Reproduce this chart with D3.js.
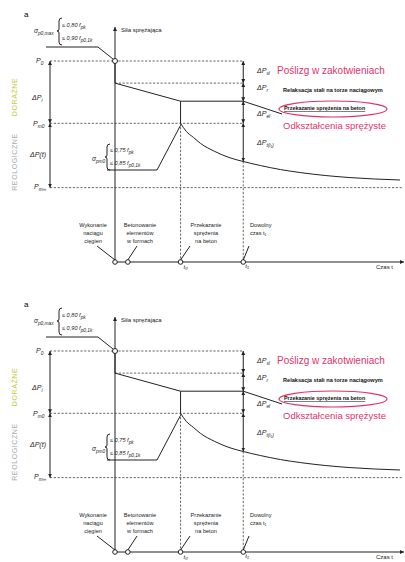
<!DOCTYPE html>
<html>
<head>
<meta charset="utf-8">
<script src="https://cdn.jsdelivr.net/npm/d3@7"></script>
<style>
  body { margin: 0; background: #fff; }
  svg { display: block; font-family: "Liberation Sans", Arial, sans-serif; }
  .dash { stroke: #555; stroke-width: 0.9; stroke-dasharray: 2.2,1.6; fill: none; }
  .solid { stroke: #222; stroke-width: 1; fill: none; }
  .lbl { font-size: 6px; fill: #222; }
</style>
</head>
<body>
<div id="chart"></div>
<script>
// poziomy siły sprężającej (jednostki umowne, P0 = 100)
const levelNames = ["P0", "Psl", "Pr", "Pm0", "Pinf"];
const levelValues = [100, 89, 80, 69, 37];

// chwile czasu na osi
const eventNames = ["Wykonanie naciągu cięgien", "Betonowanie elementów w formach", "Przekazanie sprężenia na beton", "Dowolny czas t1"];
const eventTimes = [0, 4.5, 23, 45];

// krzywa strat reologicznych po przekazaniu sprężenia
const decayT = [23, 25, 27.5, 30, 35, 40, 45, 51, 58, 65, 74, 82.5, 91, 100];
const decayP = [69, 65, 62, 59, 55, 52, 50, 48, 46, 44.5, 43, 42, 41.3, 40.8];

const W = 405, H = 562;
const svg = d3.select("#chart").append("svg").attr("width", W).attr("height", H);

const defs = svg.append("defs");
defs.append("marker")
  .attr("id", "arr").attr("viewBox", "0 0 6 6").attr("refX", 6).attr("refY", 3)
  .attr("markerWidth", 4).attr("markerHeight", 4).attr("orient", "auto-start-reverse")
  .append("path").attr("d", "M0,0 L6,3 L0,6 Z").attr("fill", "#222");

const red = "#e4336b";

function drawPanel(g) {
  const x = d3.scaleLinear().domain([0, 100]).range([115, 400]);
  const y = d3.scaleLinear().domain([0, 100]).range([262, 61]);
  const L = 50;              // lewa linia wymiarowa
  const tT1 = eventTimes[3];
  const pAtT1 = decayP[decayT.indexOf(tT1)];

  g.append("text").attr("x", 24).attr("y", 17).style("font-size", "8px").text("a");

  // linie pomocnicze poziome
  g.append("line").attr("class", "dash").attr("x1", L).attr("x2", x(tT1)).attr("y1", y(levelValues[0])).attr("y2", y(levelValues[0]));
  g.append("line").attr("class", "dash").attr("x1", x(0)).attr("x2", x(tT1)).attr("y1", y(levelValues[1])).attr("y2", y(levelValues[1]));
  g.append("line").attr("class", "solid").attr("x1", x(eventTimes[2])).attr("x2", x(tT1)).attr("y1", y(levelValues[2])).attr("y2", y(levelValues[2]));
  g.append("line").attr("class", "dash").attr("x1", L).attr("x2", x(tT1)).attr("y1", y(levelValues[3])).attr("y2", y(levelValues[3]));
  g.append("line").attr("class", "dash").attr("x1", L).attr("x2", 403).attr("y1", y(levelValues[4])).attr("y2", y(levelValues[4]));

  // pionowe linie przerywane
  g.append("line").attr("class", "dash").attr("x1", x(eventTimes[2])).attr("x2", x(eventTimes[2])).attr("y1", y(levelValues[3])).attr("y2", y(0));
  g.append("line").attr("class", "dash").attr("x1", x(tT1)).attr("x2", x(tT1)).attr("y1", y(pAtT1)).attr("y2", y(0));

  // osie
  g.append("line").attr("class", "solid").attr("stroke-width", 1.2)
    .attr("x1", x(0)).attr("x2", x(0)).attr("y1", y(0)).attr("y2", 27).attr("marker-end", "url(#arr)");
  g.append("line").attr("class", "solid").attr("stroke-width", 1.2)
    .attr("x1", x(0)).attr("x2", 404).attr("y1", y(0)).attr("y2", y(0)).attr("marker-end", "url(#arr)");
  g.append("text").attr("class", "lbl").attr("x", 121).attr("y", 32).text("Siła sprężająca");
  g.append("text").attr("class", "lbl").attr("x", 376).attr("y", 269).text("Czas t");

  // linie wymiarowe
  const dim = (xx, a, b, cls) => g.append("line").attr("class", cls || "solid")
    .attr("x1", xx).attr("x2", xx).attr("y1", y(a)).attr("y2", y(b))
    .attr("marker-start", "url(#arr)").attr("marker-end", "url(#arr)");
  dim(L, levelValues[0], levelValues[3]);
  dim(L, levelValues[3], levelValues[4]);
  dim(x(tT1), levelValues[0], levelValues[1]);
  dim(x(tT1), levelValues[1], levelValues[2]);
  dim(x(tT1), levelValues[2], levelValues[3]);
  dim(x(tT1), levelValues[3], pAtT1);

  // przebieg siły
  const pts = [[0, levelValues[0]], [0, levelValues[1]], [eventTimes[2], levelValues[2]], [eventTimes[2], levelValues[3]]];
  g.append("path").attr("class", "solid").attr("stroke", "#111").attr("stroke-width", 2)
    .attr("d", d3.line().x(d => x(d[0])).y(d => y(d[1]))(pts));
  g.append("path").attr("class", "solid").attr("stroke", "#111").attr("stroke-width", 2)
    .attr("d", d3.line().x(d => x(d[0])).y(d => y(d[1])).curve(d3.curveMonotoneX)(decayT.map((t, i) => [t, decayP[i]])));

  g.append("circle").attr("cx", x(0)).attr("cy", y(levelValues[0])).attr("r", 2.5)
    .attr("fill", "#fff").attr("stroke", "#222");

  // punkty na osi czasu
  g.selectAll("circle.ev").data(eventTimes).join("circle").attr("class", "ev")
    .attr("cx", d => x(d)).attr("cy", y(0)).attr("r", 2.3).attr("fill", "#fff").attr("stroke", "#222");

  // opisy zdarzeń
  const evLabels = [
    { lines: ["Wykonanie", "naciągu", "cięgien"], cx: 93, anchor: "middle", lx: 97 },
    { lines: ["Betonowanie", "elementów", "w formach"], cx: 140, anchor: "middle", lx: 137 },
    { lines: ["Przekazanie", "sprężenia", "na beton"], cx: 206, anchor: "middle", lx: 190 },
    { lines: ["Dowolny", "czas t\u2081"], cx: 250, anchor: "start", lx: 249 }
  ];
  evLabels.forEach((e, i) => {
    const t = g.append("text").attr("class", "lbl").attr("text-anchor", e.anchor).style("font-size", "5.6px");
    e.lines.forEach((s, j) => t.append("tspan").attr("x", e.cx).attr("y", 227 + j * 8).text(s));
    g.append("line").attr("class", "solid").attr("stroke-width", 0.8)
      .attr("x1", e.lx).attr("y1", 246).attr("x2", x(eventTimes[i])).attr("y2", y(0) - 2);
  });
  g.append("text").attr("class", "lbl").attr("x", x(eventTimes[2]) + 3).attr("y", 269).style("font-style", "italic").text("t\u2080");
  g.append("text").attr("class", "lbl").attr("x", x(tT1) + 2).attr("y", 268).style("font-style", "italic").text("t\u2081");

  // lewe opisy
  const sub = (xx, yy, main, s, size) => {
    const t = g.append("text").attr("x", xx).attr("y", yy).style("font-size", (size || 7) + "px")
      .style("font-style", "italic").attr("fill", "#222");
    t.append("tspan").text(main);
    t.append("tspan").attr("dy", 1.8).style("font-size", "4.8px").text(s);
    return t;
  };
  sub(36, 63, "P", "0");
  sub(32, 100, "\u0394P", "i");
  sub(33, 126, "P", "m0");
  sub(30, 157, "\u0394P(t)", "");
  sub(34, 189, "P", "m\u221e");

  g.append("text").attr("transform", "translate(17,97) rotate(-90)").attr("text-anchor", "middle")
    .style("font-size", "7px").style("letter-spacing", "0.6px").attr("fill", "#c3cc3c").text("DORAŹNE");
  g.append("text").attr("transform", "translate(17,162) rotate(-90)").attr("text-anchor", "middle")
    .style("font-size", "7px").style("letter-spacing", "0.6px").attr("fill", "#aaa").text("REOLOGICZNE");

  // σp0,max
  sub(34, 33, "\u03c3", "p0,max", 6.5);
  g.append("path").attr("class", "solid").attr("stroke-width", 0.8)
    .attr("d", "M62,18 Q59,18 59,21 L59,29 Q59,31 57,31 Q59,31 59,33 L59,42 Q59,45 62,45");
  sub(62, 27, "\u2264 0,80 f", "pk", 5.6);
  sub(62, 40, "\u2264 0,90 f", "p0,1k", 5.6);
  g.append("path").attr("class", "solid").attr("stroke-width", 0.8)
    .attr("d", `M46,47 L98,47 L${x(0) - 2},${y(levelValues[0]) - 2}`);

  // σpm0
  sub(92, 161, "\u03c3", "pm0", 6.5);
  g.append("path").attr("class", "solid").attr("stroke-width", 0.8)
    .attr("d", "M110,144 Q107,144 107,147 L107,155 Q107,157 105,157 Q107,157 107,159 L107,167 Q107,170 110,170");
  sub(110, 152, "\u2264 0,75 f", "pk", 5.6);
  sub(110, 165, "\u2264 0,85 f", "p0,1k", 5.6);
  g.append("path").attr("class", "solid").attr("stroke-width", 0.8)
    .attr("d", `M107,170 L157,170 L${x(eventTimes[2])},${y(levelValues[3]) + 2}`);

  // prawe opisy
  sub(257, 73, "\u0394P", "sl");
  sub(257, 90, "\u0394P", "r");
  sub(257, 116, "\u0394P", "el");
  sub(257, 145, "\u0394P", "t(t\u2081)");

  g.append("text").attr("x", 277).attr("y", 74).style("font-size", "10px").attr("fill", red).text("Poślizg w zakotwieniach");
  g.append("text").attr("x", 283).attr("y", 92).style("font-size", "5.6px").style("font-weight", "bold").attr("fill", "#111")
    .text("Relaksacja stali na torze naciągowym");
  g.append("text").attr("x", 284).attr("y", 110).style("font-size", "5.4px").style("font-weight", "bold").attr("fill", "#111")
    .style("text-decoration", "underline").text("Przekazanie sprężenia na beton");
  g.append("ellipse").attr("cx", 333).attr("cy", 109).attr("rx", 54).attr("ry", 8)
    .attr("fill", "none").attr("stroke", red).attr("stroke-width", 1.1);
  g.append("line").attr("class", "solid").attr("stroke-width", 0.9)
    .attr("x1", x(tT1)).attr("y1", y(levelValues[2])).attr("x2", 282).attr("y2", 114);
  g.append("text").attr("x", 283).attr("y", 129).style("font-size", "9.5px").attr("fill", red).text("Odkształcenia sprężyste");
}

drawPanel(svg.append("g"));
drawPanel(svg.append("g").attr("transform", "translate(0,290)"));
</script>
</body>
</html>
